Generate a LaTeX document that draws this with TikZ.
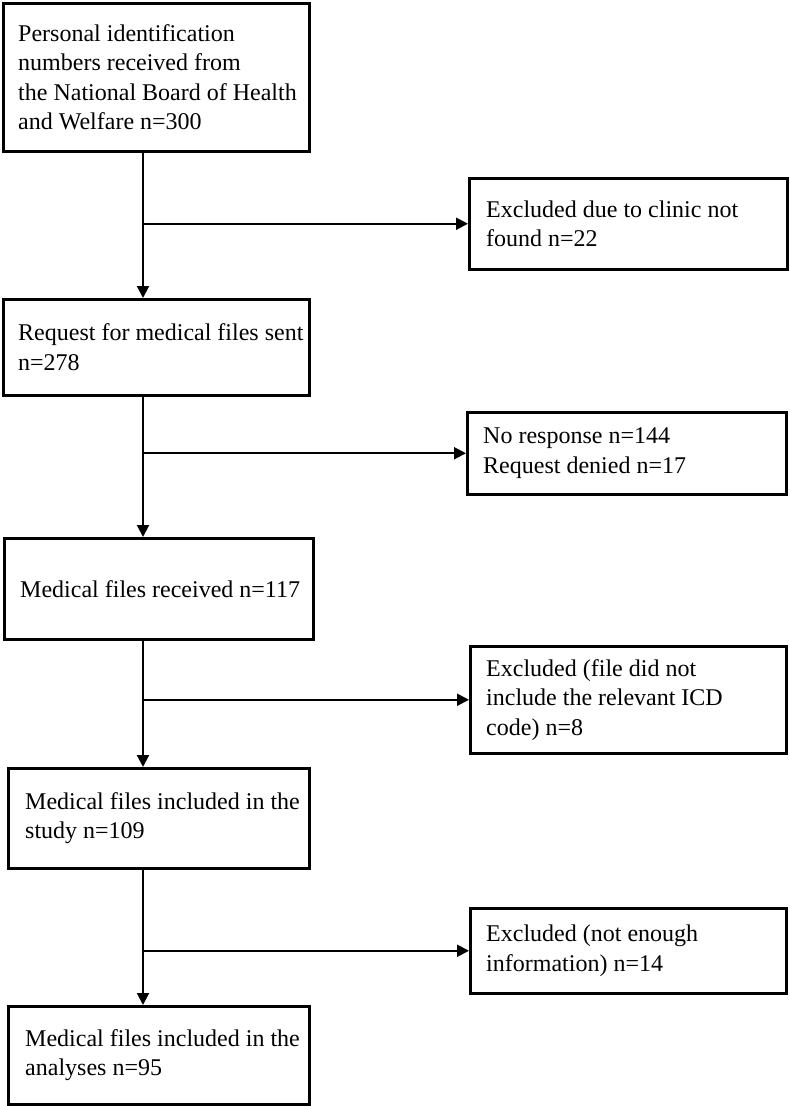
\documentclass[tikz,border=0pt]{standalone}
\usepackage{fontspec}
\setmainfont{Liberation Serif}
\usetikzlibrary{arrows.meta}
\begin{document}
\begin{tikzpicture}[x=1pt,y=-1pt,
  boxframe/.style={draw, line width=2.5pt, rectangle, anchor=north west, inner sep=0pt},
  boxtext/.style={anchor=west, align=left, inner sep=0pt, font=\fontsize{24}{29.5}\selectfont},
  flow/.style={line width=2pt, -{Triangle[length=12pt,width=12pt]}}]
\useasboundingbox (0,0) rectangle (790,1106);
% left column boxes
\node[boxframe, minimum width=306pt, minimum height=148pt] (b1) at (2,2) {};
\node[boxframe, minimum width=306pt, minimum height=96pt] (b2) at (2,298) {};
\node[boxframe, minimum width=309pt, minimum height=101pt] (b3) at (3,537) {};
\node[boxframe, minimum width=301pt, minimum height=100pt] (b4) at (7,767) {};
\node[boxframe, minimum width=301pt, minimum height=98pt] (b5) at (7,1005) {};
% right column boxes
\node[boxframe, minimum width=318pt, minimum height=91pt] (r1) at (468,177) {};
\node[boxframe, minimum width=319pt, minimum height=82pt] (r2) at (466,411) {};
\node[boxframe, minimum width=316pt, minimum height=107pt] (r3) at (469,645) {};
\node[boxframe, minimum width=316pt, minimum height=85pt] (r4) at (469,907) {};
% texts
\node[boxtext] (t1) at ([xshift=16pt]b1.west) {Personal identification\\numbers received from\\the National Board of Health\\and Welfare n=300};
\node[boxtext] (t2) at ([xshift=16pt]b2.west) {Request for medical files sent\\n=278};
\node[boxtext] (t3) at ([xshift=17pt]b3.west) {Medical files received n=117};
\node[boxtext] (t4) at ([xshift=18pt]b4.west) {Medical files included in the\\study n=109};
\node[boxtext] (t5) at ([xshift=18pt]b5.west) {Medical files included in the\\analyses n=95};
\node[boxtext] (s1) at ([xshift=18pt]r1.west) {Excluded due to clinic not\\found n=22};
\node[boxtext] (s2) at ([xshift=17pt]r2.west) {No response n=144\\Request denied n=17};
\node[boxtext] (s3) at ([xshift=17pt]r3.west) {Excluded (file did not\\include the relevant ICD\\code) n=8};
\node[boxtext] (s4) at ([xshift=17pt]r4.west) {Excluded (not enough\\information) n=14};
% connectors
\coordinate (vx) at (143,0);
\draw[flow] (b1.south -| vx) -- (b2.north -| vx);
\draw[flow] (b2.south -| vx) -- (b3.north -| vx);
\draw[flow] (b3.south -| vx) -- (b4.north -| vx);
\draw[flow] (b4.south -| vx) -- (b5.north -| vx);
\draw[flow] (r1.west -| vx) -- (r1.west);
\draw[flow] (r2.west -| vx) -- (r2.west);
\draw[flow] (r3.west -| vx) -- (r3.west);
\draw[flow] (r4.west -| vx) -- (r4.west);
\end{tikzpicture}
\end{document}
